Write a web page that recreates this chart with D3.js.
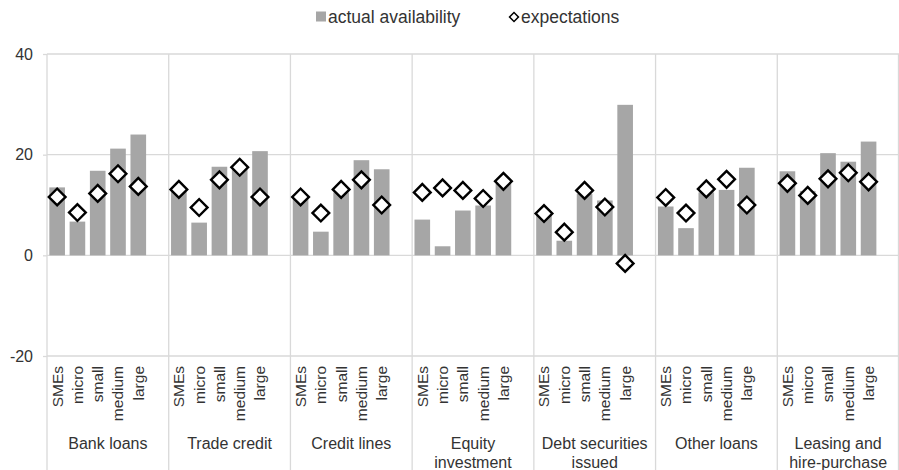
<!DOCTYPE html>
<html>
<head>
<meta charset="utf-8">
<script src="https://cdn.jsdelivr.net/npm/d3@7"></script>
<style>
  body { margin: 0; background: #fff; }
  svg { font-family: "Liberation Sans", Arial, sans-serif; }
</style>
</head>
<body>
<div id="chart"></div>
<script>
// funding instruments (outer categories)
const groups = ["Bank loans", "Trade credit", "Credit lines", "Equity investment",
    "Debt securities issued", "Other loans", "Leasing and hire-purchase"];
const groupLines = [["Bank loans"], ["Trade credit"], ["Credit lines"], ["Equity", "investment"],
    ["Debt securities", "issued"], ["Other loans"], ["Leasing and", "hire-purchase"]];
// firm sizes (inner categories)
const sizes = ["SMEs", "micro", "small", "medium", "large"];
const yTicks = [-20, 0, 20, 40];

// one row per group, values in size order
const actual = [
    [13.5, 6.7, 16.8, 21.2, 24.0],
    [12.6, 6.5, 17.6, 17.8, 20.7],
    [11.3, 4.7, 12.5, 18.9, 17.1],
    [7.1, 1.8, 8.9, 9.9, 14.2],
    [8.0, 2.9, 12.2, 10.9, 29.9],
    [9.7, 5.4, 12.5, 13.0, 17.4],
    [16.7, 12.8, 20.3, 18.6, 22.6]
];
const expectations = [
    [11.6, 8.5, 12.3, 16.2, 13.7],
    [13.1, 9.5, 15.0, 17.5, 11.6],
    [11.6, 8.4, 13.1, 15.0, 10.0],
    [12.5, 13.4, 12.9, 11.3, 14.7],
    [8.3, 4.6, 12.9, 9.6, -1.6],
    [11.5, 8.4, 13.2, 15.1, 10.0],
    [14.3, 11.9, 15.2, 16.4, 14.6]
];

const width = 899, height = 470;
const plotLeft = 47, plotRight = 899, plotTop = 54, plotBottom = 356;
const barColor = "#a6a6a6", gridColor = "#d9d9d9", textColor = "#333";

const svg = d3.select("#chart").append("svg")
    .attr("width", width)
    .attr("height", height);

const x0 = d3.scaleBand().domain(groups).range([plotLeft, plotRight]);
// five sizes plus one empty slot at the end of every group
const x1 = d3.scaleBand().domain(sizes)
    .range([0, x0.bandwidth()])
    .paddingOuter(0.5).align(0);
const y = d3.scaleLinear().domain([-20, 40]).range([plotBottom, plotTop]);

const barW = x1.bandwidth() * 0.77;

// horizontal gridlines
svg.append("g")
    .selectAll("line")
    .data(yTicks)
    .enter()
    .append("line")
    .attr("x1", plotLeft)
    .attr("x2", plotRight)
    .attr("y1", d => y(d))
    .attr("y2", d => y(d))
    .attr("stroke", gridColor)
    .attr("stroke-width", 1.3);

// vertical group separators, running down through the label area
svg.append("g")
    .selectAll("line")
    .data(groups)
    .enter()
    .append("line")
    .attr("x1", d => x0(d))
    .attr("x2", d => x0(d))
    .attr("y1", plotTop)
    .attr("y2", height)
    .attr("stroke", gridColor)
    .attr("stroke-width", 1.3);

svg.append("line")
    .attr("x1", plotRight - 0.5).attr("x2", plotRight - 0.5)
    .attr("y1", plotTop).attr("y2", height)
    .attr("stroke", gridColor).attr("stroke-width", 1.3);

// y axis (plain hyphen for negatives, like the original)
const yAxis = d3.axisLeft(y)
    .tickValues(yTicks)
    .tickFormat(d => String(d))
    .tickSize(4)
    .tickPadding(10);
const yG = svg.append("g")
    .attr("transform", `translate(${plotLeft}, 0)`)
    .call(yAxis);
yG.select(".domain").remove();
yG.selectAll(".tick line").attr("stroke", gridColor).attr("stroke-width", 1.3);
yG.selectAll(".tick text")
    .attr("fill", textColor)
    .style("font-size", "16px")
    .style("font-family", "Liberation Sans, Arial, sans-serif");

// bars and diamonds
const cells = [];
groups.forEach((g, gi) => {
    sizes.forEach((s, si) => {
        cells.push({ group: g, size: s, actual: actual[gi][si], expect: expectations[gi][si] });
    });
});
const cx = d => x0(d.group) + x1(d.size) + x1.bandwidth() / 2;

svg.append("g")
    .selectAll("rect")
    .data(cells)
    .enter()
    .append("rect")
    .attr("x", d => cx(d) - barW / 2)
    .attr("y", d => y(Math.max(0, d.actual)))
    .attr("width", barW)
    .attr("height", d => Math.abs(y(d.actual) - y(0)))
    .attr("fill", barColor);

const diamond = d3.symbol().type(d3.symbolSquare).size(140);
svg.append("g")
    .selectAll("path")
    .data(cells)
    .enter()
    .append("path")
    .attr("d", diamond)
    .attr("transform", d => `translate(${cx(d)}, ${y(d.expect)}) rotate(45)`)
    .attr("fill", "#fff")
    .attr("stroke", "#000")
    .attr("stroke-width", 2.4);

// rotated size labels
svg.append("g")
    .selectAll("text")
    .data(cells)
    .enter()
    .append("text")
    .attr("transform", d => `translate(${cx(d)}, ${plotBottom + 10}) rotate(-90)`)
    .attr("dy", "0.35em")
    .style("text-anchor", "end")
    .style("font-size", "15.5px")
    .attr("fill", textColor)
    .text(d => d.size);

// group labels
const gl = svg.append("g")
    .selectAll("text")
    .data(groups)
    .enter()
    .append("text")
    .attr("x", d => x0(d) + x0.bandwidth() / 2)
    .attr("y", 449)
    .style("text-anchor", "middle")
    .style("font-size", "16px")
    .attr("fill", textColor);
gl.selectAll("tspan")
    .data((d, i) => groupLines[i])
    .enter()
    .append("tspan")
    .attr("x", function() { return d3.select(this.parentNode).attr("x"); })
    .attr("dy", (d, i) => i === 0 ? 0 : 18.5)
    .text(d => d);

// legend
const legend = svg.append("g").attr("transform", "translate(0, 17)");
legend.append("rect")
    .attr("x", 316).attr("y", -5.5)
    .attr("width", 10).attr("height", 10)
    .attr("fill", barColor);
legend.append("text")
    .attr("x", 328).attr("dy", "0.35em")
    .style("font-size", "17.5px")
    .attr("fill", textColor)
    .text("actual availability");
legend.append("path")
    .attr("d", d3.symbol().type(d3.symbolSquare).size(40))
    .attr("transform", "translate(514, 0) rotate(45)")
    .attr("fill", "#fff")
    .attr("stroke", "#000")
    .attr("stroke-width", 1.5);
legend.append("text")
    .attr("x", 521).attr("dy", "0.35em")
    .style("font-size", "17.5px")
    .attr("fill", textColor)
    .text("expectations");
</script>
</body>
</html>
